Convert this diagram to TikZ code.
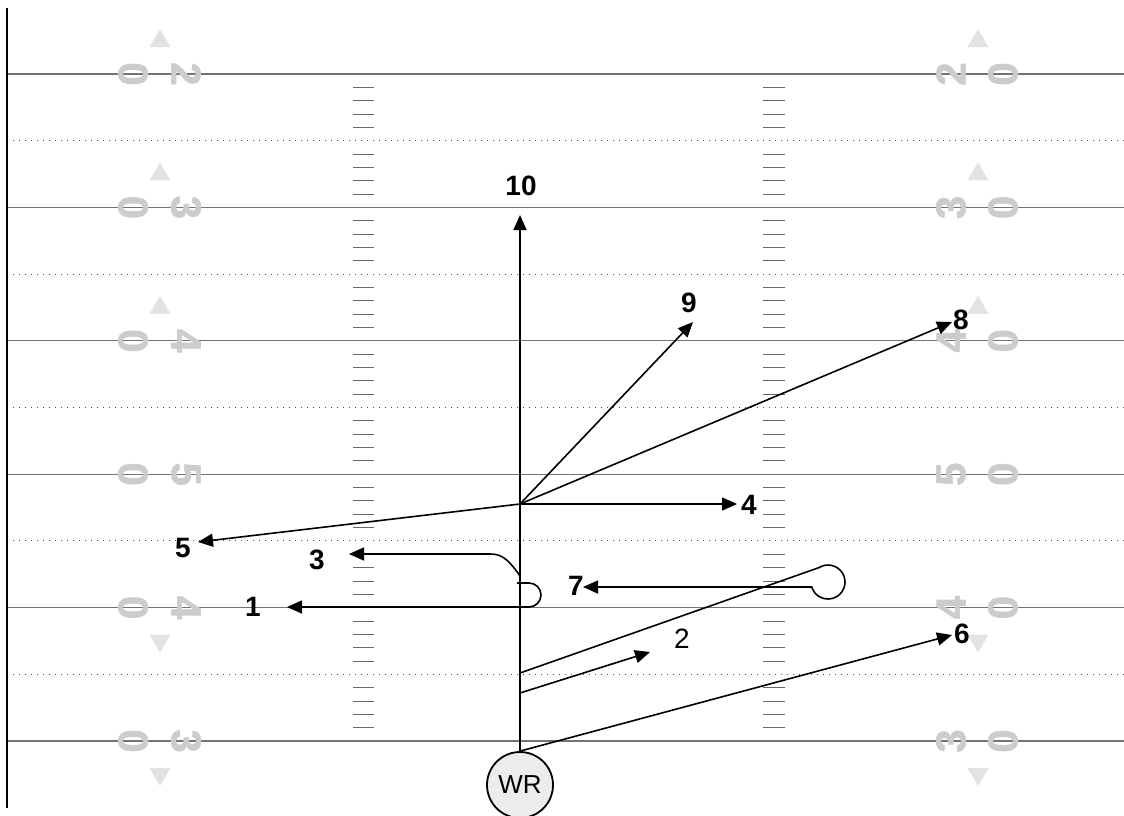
\documentclass[tikz,border=0pt]{standalone}
\usepackage{fontspec}
\setmainfont{Liberation Sans}
\newfontfamily\ydfont[FakeBold=1.5]{Liberation Sans Bold}
\usetikzlibrary{arrows.meta}
\begin{document}
\begin{tikzpicture}[x=1pt,y=-1pt,
  yardline/.style={black!55,line width=1.1pt},
  fiveline/.style={black!70,line width=1.1pt,dash pattern=on 1pt off 5pt},
  hashmark/.style={black!60,line width=0.8pt},
  ydnum/.style={text=gray!40,font=\ydfont\fontsize{42}{42}\selectfont,inner sep=0pt},
  ydtri/.style={fill=gray!22,draw=none},
  route/.style={line width=1.6pt,black},
  routearrow/.style={route,-{Triangle[length=15pt,width=13pt]}},
  rlabel/.style={font=\fontsize{28}{28}\selectfont\bfseries,inner sep=0pt},
  plainlabel/.style={font=\fontsize{28}{28}\selectfont,inner sep=0pt},
]
\useasboundingbox (0,0) rectangle (1124,815);
% sideline
\draw[line width=2.8pt] (7,8) -- (7,808);
% yard lines and five-yard lines
\foreach \y in {74,207.4,340.8,474.2,607.6,741} \draw[yardline] (8,\y) -- (1124,\y);
\foreach \y in {140.7,274.1,407.5,540.9,674.3} \draw[fiveline] (13,\y) -- (1124,\y);
% hash marks
\foreach \s in {0,...,9}{
  \foreach \j in {1,...,4}{
    \draw[hashmark] (353,{74+(5*\s+\j)*13.34}) -- (374,{74+(5*\s+\j)*13.34});
    \draw[hashmark] (763,{74+(5*\s+\j)*13.34}) -- (785,{74+(5*\s+\j)*13.34});
  }
}
% yard numbers
\foreach \y/\d [count=\i] in {74/2,207.4/3,340.8/4,474.2/5,607.6/4,741/3}{
  \node[ydnum,rotate=-90] (lz\i) at (133,\y) {0};
  \node[ydnum,rotate=-90] (ld\i) at (186,\y) {\d};
  \node[ydnum,rotate=90] (rd\i) at (951,\y) {\d};
  \node[ydnum,rotate=90] (rz\i) at (1003,\y) {0};
}
% direction triangles
\foreach \y in {74,207.4,340.8}{
  \fill[ydtri] (160,\y-45) -- (149.5,\y-27) -- (170.5,\y-27) -- cycle;
  \fill[ydtri] (978,\y-45) -- (967.5,\y-27) -- (988.5,\y-27) -- cycle;
}
\foreach \y in {607.6,741}{
  \fill[ydtri] (160,\y+45) -- (149.5,\y+27) -- (170.5,\y+27) -- cycle;
  \fill[ydtri] (978,\y+45) -- (967.5,\y+27) -- (988.5,\y+27) -- cycle;
}
% receiver
\node[circle,draw,line width=1.8pt,fill=gray!15,minimum size=66pt,inner sep=0pt,
      font=\fontsize{26}{26}\selectfont] (wr) at (520,785) {WR};
% route points
\coordinate (br) at (520,504);
\coordinate (s3) at (520,576);
\coordinate (s1) at (517,583);
\coordinate (s7) at (520,673);
\coordinate (s2) at (520,693);
\coordinate (t10) at (520,215);
\coordinate (t9) at (693,322);
\coordinate (t8) at (952,322);
\coordinate (t4) at (737,504);
\coordinate (t5) at (198,542);
\coordinate (t3) at (349,554);
\coordinate (t1) at (287,607);
\coordinate (t7) at (583,587);
\coordinate (t2) at (650,652);
\coordinate (t6) at (952,635);
% routes
\draw[routearrow] (wr.north) -- (t10);
\draw[routearrow] (br) -- (t9);
\draw[routearrow] (br) -- (t8);
\draw[routearrow] (br) -- (t4);
\draw[routearrow] (br) -- (t5);
\draw[routearrow] (s3) .. controls (507,557) and (500,554) .. (490,554) -- (t3);
\draw[routearrow] (s1) -- (529,583) arc[start angle=-90,end angle=90,radius=12] -- (t1);
\draw[routearrow] (s7) -- (819,567.6) arc[start angle=238,end angle=523,radius=17] -- (t7);
\draw[routearrow] (s2) -- (t2);
\draw[routearrow] (wr.north) -- (t6);
% labels
\node[rlabel] (l10) at (521,186) {10};
\node[rlabel] (l9) at (689,303) {9};
\node[rlabel] (l8) at (961,320) {8};
\node[rlabel] (l4) at (749,505) {4};
\node[rlabel] (l5) at (183,548) {5};
\node[rlabel] (l3) at (317,560) {3};
\node[rlabel] (l1) at (253,607) {1};
\node[rlabel] (l7) at (576,586) {7};
\node[plainlabel] (l2) at (682,639) {2};
\node[rlabel] (l6) at (962,634) {6};
\end{tikzpicture}
\end{document}
